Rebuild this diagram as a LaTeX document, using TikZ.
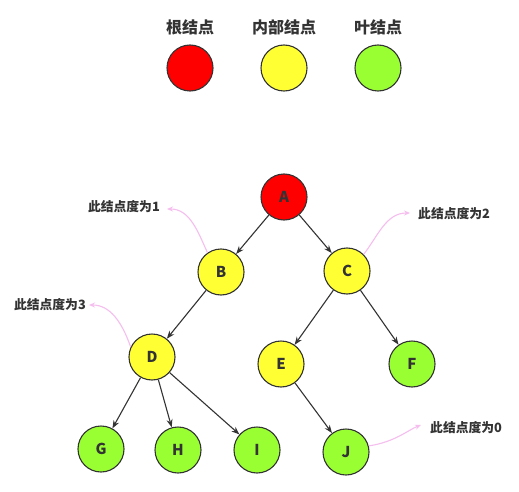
\documentclass[tikz,border=0pt]{standalone}
\usepackage{fontspec}
\setmainfont{Noto Sans CJK SC}
\usetikzlibrary{arrows.meta}
\definecolor{rootc}{RGB}{255,0,0}
\definecolor{innerc}{RGB}{255,255,51}
\definecolor{leafc}{RGB}{153,255,51}
\definecolor{edgec}{RGB}{51,51,51}
\definecolor{notec}{RGB}{245,190,238}
\tikzset{
  tnode/.style={circle,draw=edgec,line width=1.1pt,minimum size=46pt,inner sep=0pt,font=\fontsize{15pt}{15pt}\selectfont\bfseries,text=edgec},
  rootn/.style={tnode,fill=rootc},
  innern/.style={tnode,fill=innerc},
  leafn/.style={tnode,fill=leafc},
  edge/.style={draw=edgec,line width=1.1pt,-{Stealth[length=8pt,width=6pt]}},
  note/.style={draw=notec,line width=1.1pt,-{Stealth[length=6pt,width=5pt]}},
  notetext/.style={font=\fontsize{12.8pt}{13pt}\selectfont\bfseries,text=edgec,inner sep=0pt},
  legtext/.style={font=\fontsize{16pt}{16pt}\selectfont\bfseries,text=edgec,inner sep=0pt}
}
\begin{document}
\begin{tikzpicture}[x=1pt,y=-1pt]
\useasboundingbox[fill=white] (0,0) rectangle (519,492);
% legend
\node[legtext] (l1) at (190,27) {根结点};
\node[legtext] (l2) at (284,27) {内部结点};
\node[legtext] (l3) at (378,27) {叶结点};
\node[rootn] (k1) at (190,68) {};
\node[innern] (k2) at (284,68) {};
\node[leafn] (k3) at (378,68) {};
% tree
\node[rootn] (A) at (284,197) {A};
\node[innern] (B) at (221,272) {B};
\node[innern] (C) at (347,271) {C};
\node[innern] (D) at (152,357) {D};
\node[innern] (E) at (281,364) {E};
\node[leafn] (F) at (412,364) {F};
\node[leafn] (G) at (101,449) {G};
\node[leafn] (H) at (178,450) {H};
\node[leafn] (I) at (257,450) {I};
\node[leafn] (J) at (346,452) {J};
\draw[edge] (A) -- (B);
\draw[edge] (A) -- (C);
\draw[edge] (B) -- (D);
\draw[edge] (C) -- (E);
\draw[edge] (C) -- (F);
\draw[edge] (D) -- (G);
\draw[edge] (D) -- (H);
\draw[edge] (D) -- (I);
\draw[edge] (E) -- (J);
% notes
\node[notetext,anchor=east] (n1) at (160,207) {此结点度为1};
\node[notetext,anchor=west] (n2) at (418,214) {此结点度为2};
\node[notetext,anchor=east] (n3) at (86,305) {此结点度为3};
\node[notetext,anchor=west] (n0) at (430,428) {此结点度为0};
\coordinate (e1) at (167,209);
\coordinate (e2) at (410,213);
\coordinate (e3) at (89,305);
\coordinate (e0) at (421,425);
\draw[note] (B.125) .. controls (198,232) and (190,209) .. (e1);
\draw[note] (C.45) .. controls (378,236) and (386,213) .. (e2);
\draw[note] (D.155) .. controls (122,322) and (110,305) .. (e3);
\draw[note] (J.15) .. controls (395,442) and (408,430) .. (e0);
\end{tikzpicture}
\end{document}
